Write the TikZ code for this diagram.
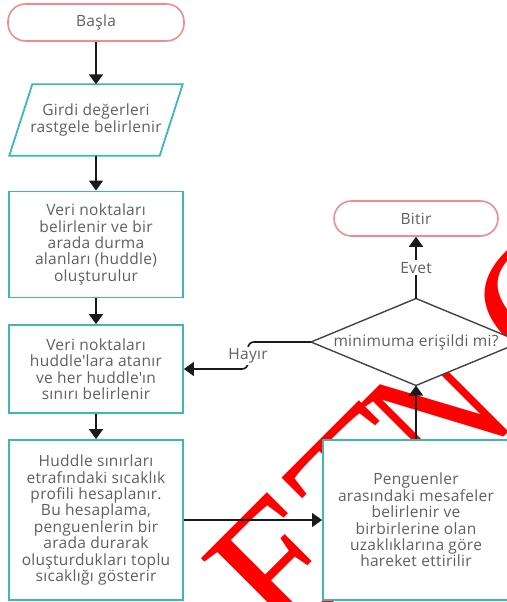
\documentclass[tikz,border=0pt]{standalone}
\usepackage{fontspec}
\usepackage{graphicx}
\setmainfont{Open Sans}[LetterSpace=2]
\newfontfamily\wmfont{Liberation Serif}
\usetikzlibrary{arrows.meta}
\definecolor{txt}{HTML}{606060}
\definecolor{tealc}{HTML}{3CB8B8}
\definecolor{termc}{HTML}{F08C8C}
\definecolor{linec}{HTML}{1A1A1A}
\definecolor{dgray}{HTML}{444444}
\begin{document}
\begin{tikzpicture}[x=1pt,y=-1pt,
  every node/.style={font=\fontsize{15.5}{16.4}\selectfont, text=txt, align=center},
  term/.style={draw=termc, line width=1.6pt, fill=white, rounded corners=17.5pt, minimum width=176pt, minimum height=37pt, inner sep=0pt},
  proc/.style={draw=tealc, line width=1.8pt, fill=white, inner sep=0pt},
  iobox/.style={draw=tealc, line width=1.8pt},
  decbox/.style={draw=dgray, line width=1.4pt, fill=white},
  conn/.style={draw=linec, line width=1.6pt, -{Triangle[width=14pt,length=10pt]}},
  lbl/.style={fill=white, inner sep=2pt},
  wmark/.style={rotate=45, anchor=base west, inner sep=0pt, text=red, font=\wmfont\fontsize{190}{190}\selectfont}
]
\useasboundingbox (0,0) rectangle (506,602);
% watermark
\node[wmark] (wma) at (285,651) {ET};
\node[wmark] (wmb) at (444,497) {\scalebox{0.78}[1]{N}};
\node[wmark] (wmc) at (546,390) {O};
% left column
\node[term] (start) at (96,22.5) {Başla};
\node[inner sep=0pt, minimum width=150pt, minimum height=71pt] (in) at (96,120) {Girdi değerleri\\rastgele belirlenir};
\draw[iobox] ([xshift=11.5pt]in.north west) -- ([xshift=11.5pt]in.north east) -- ([xshift=-11.5pt]in.south east) -- ([xshift=-11.5pt]in.south west) -- cycle;
\node[proc, minimum width=174pt, minimum height=106pt] (b3) at (96,244.5) {Veri noktaları\\belirlenir ve bir\\arada durma\\alanları (huddle)\\oluşturulur};
\node[proc, minimum width=174pt, minimum height=88pt] (b4) at (96,369) {Veri noktaları\\huddle\textquotesingle lara atanır\\ve her huddle\textquotesingle ın\\sınırı belirlenir};
\node[proc, minimum width=174pt, minimum height=160pt] (b5) at (96,520) {Huddle sınırları\\etrafındaki sıcaklık\\profili hesaplanır.\\Bu hesaplama,\\penguenlerin bir\\arada durarak\\oluşturdukları toplu\\sıcaklığı gösterir};
% right column
\node[proc, minimum width=186pt, minimum height=160pt] (b6) at (416,520) {Penguenler\\arasındaki mesafeler\\belirlenir ve\\birbirlerine olan\\uzaklıklarına göre\\hareket ettirilir};
\coordinate (dtop) at (416,298.5);
\coordinate (dbot) at (416,385.5);
\coordinate (dleft) at (311,342);
\coordinate (dright) at (521,342);
\draw[decbox] (dtop) -- (dright) -- (dbot) -- (dleft) -- cycle;
\node (dec) at (416,342) {minimuma erişildi mi?};
\node[term, minimum width=164pt, minimum height=35pt] (end) at (416,218.5) {Bitir};
% connectors
\draw[conn] (start) -- (in);
\draw[conn] (in) -- (b3);
\draw[conn] (b3) -- (b4);
\draw[conn] (b4) -- (b5);
\draw[conn] (b5) -- (b6);
\draw[conn] (b6) -- (dbot);
\draw[conn] (dtop) -- (end) node[midway, lbl] (evet) {Evet};
\draw[conn, rounded corners=6pt] (dleft) -- (248,342) -- (248,369) -- (b4.east);
\node[lbl] (hayir) at (248,356) {Hayır};
\end{tikzpicture}
\end{document}
